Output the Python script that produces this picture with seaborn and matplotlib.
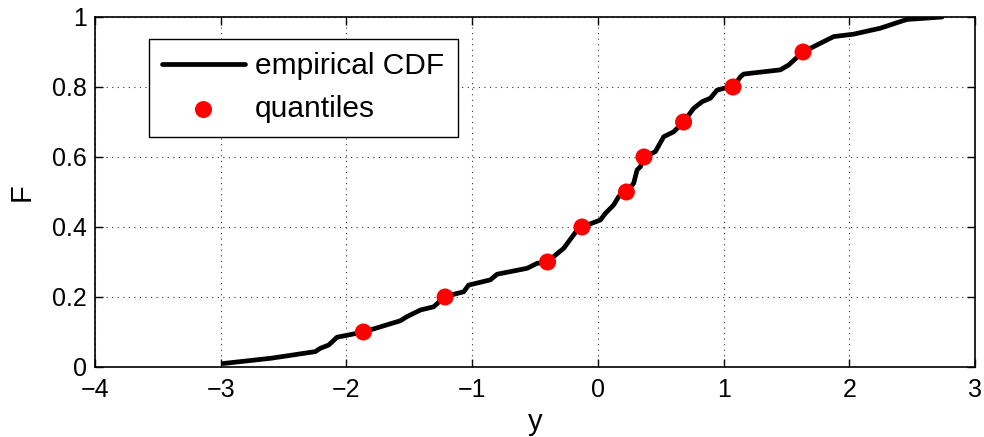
import matplotlib
matplotlib.use("Agg")
import matplotlib.pyplot as plt
import seaborn as sns
import numpy as np

# Empirical CDF trace (y values, F values)
cdf_y = [-2.98, -2.6, -2.247, -2.21, -2.14, -2.075, -1.865, -1.572, -1.518, -1.41,
         -1.306, -1.219, -1.067, -1.028, -0.855, -0.802, -0.563, -0.484, -0.404, -0.272,
         -0.165, -0.126, 0.02, 0.06, 0.126, 0.166, 0.227, 0.285, 0.312, 0.338,
         0.367, 0.457, 0.524, 0.603, 0.682, 0.762, 0.829, 0.895, 0.948, 1.0,
         1.075, 1.134, 1.16, 1.452, 1.518, 1.545, 1.632, 1.77, 1.876, 2.035,
         2.247, 2.407, 2.46, 2.738]
cdf_F = [0.01, 0.025, 0.044, 0.053, 0.063, 0.085, 0.1, 0.132, 0.144, 0.163,
         0.172, 0.201, 0.215, 0.234, 0.249, 0.265, 0.282, 0.296, 0.3, 0.339,
         0.391, 0.4, 0.42, 0.439, 0.463, 0.487, 0.5, 0.525, 0.563, 0.572,
         0.6, 0.615, 0.658, 0.672, 0.7, 0.739, 0.758, 0.768, 0.791, 0.796,
         0.8, 0.829, 0.837, 0.849, 0.863, 0.872, 0.9, 0.925, 0.944, 0.951,
         0.968, 0.987, 0.993, 1.0]

# Quantiles
q_y = [-1.865, -1.215, -0.40, -0.126, 0.227, 0.367, 0.682, 1.075, 1.632]
q_F = [0.1, 0.2, 0.3, 0.4, 0.5, 0.6, 0.7, 0.8, 0.9]

x_ticks = [-4, -3, -2, -1, 0, 1, 2, 3]
y_ticks = [0, 0.2, 0.4, 0.6, 0.8, 1]
y_tick_labels = ["0", "0.2", "0.4", "0.6", "0.8", "1"]

sns.set_style("ticks")
plt.rcParams["font.family"] = ["Liberation Sans", "DejaVu Sans"]
plt.rcParams["axes.unicode_minus"] = True
for k in ["text.color", "axes.labelcolor", "xtick.color", "ytick.color"]:
    plt.rcParams[k] = "black"

fig = plt.figure(figsize=(9.84, 4.37), dpi=100)
ax = fig.add_axes([95 / 984, 1 - 367 / 437, 880 / 984, 350 / 437])

sns.lineplot(x=cdf_y, y=cdf_F, sort=False, estimator=None, color="black",
             linewidth=3.4, ax=ax, label="empirical CDF")
sns.scatterplot(x=q_y, y=q_F, color="red", s=150, edgecolor="none", ax=ax,
                label="quantiles", zorder=3)

ax.set_xlim(-4, 3)
ax.set_ylim(0, 1)
ax.set_xticks(x_ticks)
ax.set_yticks(y_ticks)
ax.set_yticklabels(y_tick_labels)
ax.grid(True, color="#333333", linestyle=(0, (1, 4)), linewidth=0.8)
ax.tick_params(direction="in", length=6, width=1, top=True, right=True,
               labelsize=18, colors="black")
ax.tick_params(axis="x", pad=8)
ax.tick_params(axis="y", pad=6)
for s in ax.spines.values():
    s.set_visible(True)
    s.set_linewidth(1.2)
    s.set_color("black")

ax.set_xlabel("y", fontsize=21, labelpad=4)
ax.set_ylabel("F", fontsize=21, labelpad=12)

handles, labels = ax.get_legend_handles_labels()
leg = ax.legend(handles, labels, loc="upper left",
                bbox_to_anchor=((149 - 95) / 880, (367 - 39) / 350),
                borderaxespad=0, fontsize=21.5, frameon=True, fancybox=False,
                edgecolor="black", framealpha=1, handlelength=2.75,
                handletextpad=0.35, labelspacing=0.5, borderpad=0.45)
leg.get_frame().set_linewidth(1.0)

fig.savefig("out.png", dpi=100)
